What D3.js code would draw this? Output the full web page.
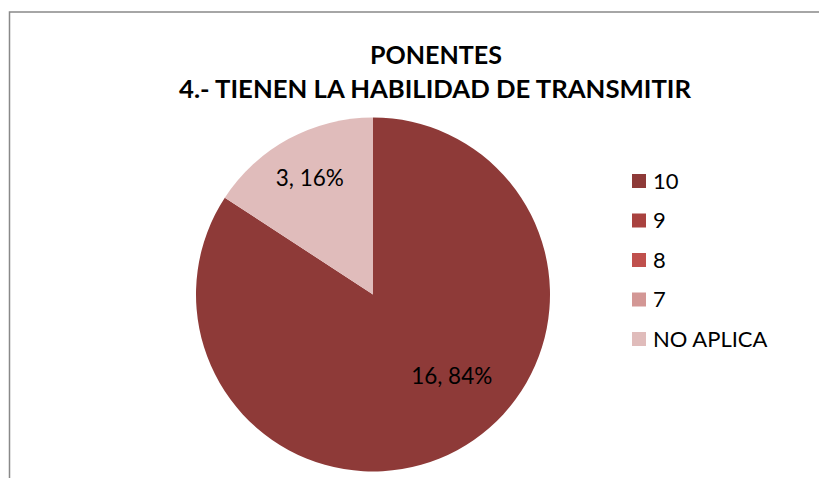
<!DOCTYPE html>
<html><head><meta charset="utf-8">
<script src="https://cdn.jsdelivr.net/npm/d3@7/dist/d3.min.js"></script>
<style>body{margin:0;background:#fff}svg{display:block}</style>
</head><body>
<svg id="c" width="819" height="478"></svg>
<script>
const categories = ["10", "9", "8", "7", "NO APLICA"];
const values = [16, 0, 0, 0, 3];
const colors = ["#8E3A38", "#A9423F", "#C0504D", "#D39795", "#E0BCBB"];
const titleLines = ["PONENTES", "4.- TIENEN LA HABILIDAD DE TRANSMITIR"];

const svg = d3.select("#c");
const font = "Lato, 'Open Sans', sans-serif";

svg.append("rect").attr("x", 9.5).attr("y", 12).attr("width", 830).attr("height", 480)
  .attr("fill", "#fff").attr("stroke", "#898989").attr("stroke-width", 1.5);

svg.append("text").attr("x", 436).attr("y", 64).attr("text-anchor", "middle")
  .attr("font-family", font).attr("font-weight", "bold").attr("font-size", 24).attr("fill", "#000")
  .attr("textLength", 132).attr("lengthAdjust", "spacingAndGlyphs")
  .text(titleLines[0]);
svg.append("text").attr("x", 435).attr("y", 98).attr("text-anchor", "middle")
  .attr("font-family", font).attr("font-weight", "bold").attr("font-size", 24).attr("fill", "#000")
  .attr("textLength", 512).attr("lengthAdjust", "spacingAndGlyphs")
  .text(titleLines[1]);

const cx = 373, cy = 294.5, r = 177;
const total = d3.sum(values);
const pie = d3.pie().sort(null).value(d => d)(values);
const arc = d3.arc().innerRadius(0).outerRadius(r);
const g = svg.append("g").attr("transform", `translate(${cx},${cy})`);
g.selectAll("path").data(pie).enter().filter(d => d.data > 0).append("path")
  .attr("d", arc).attr("fill", (d) => colors[d.index]);

// label placement (best-fit style): radial fraction and angular shift per slice
const labelPos = { 0: { f: 0.64, shift: -0.272 }, 4: { f: 0.75, shift: 0 } };
g.selectAll("text.lbl").data(pie.filter(d => d.data > 0)).enter().append("text")
  .attr("class", "lbl")
  .attr("transform", d => {
    const p = labelPos[d.index];
    const a = (d.startAngle + d.endAngle) / 2 + p.shift;
    return `translate(${Math.sin(a) * r * p.f},${-Math.cos(a) * r * p.f})`;
  })
  .attr("text-anchor", "middle").attr("dy", "0.36em")
  .attr("font-family", font).attr("font-size", 22.5).attr("fill", "#000")
  .text(d => `${d.data}, ${Math.round(d.data / total * 100)}%`);

const leg = svg.append("g");
const ly = d3.scalePoint().domain(categories).range([181, 339]);
categories.forEach((c, i) => {
  leg.append("rect").attr("x", 632).attr("y", ly(c) - 7).attr("width", 14).attr("height", 14).attr("fill", colors[i]);
  leg.append("text").attr("x", 653).attr("y", ly(c)).attr("dy", "0.36em")
    .attr("font-family", font).attr("font-size", 22).attr("fill", "#000").text(c);
});
</script>
</body></html>
